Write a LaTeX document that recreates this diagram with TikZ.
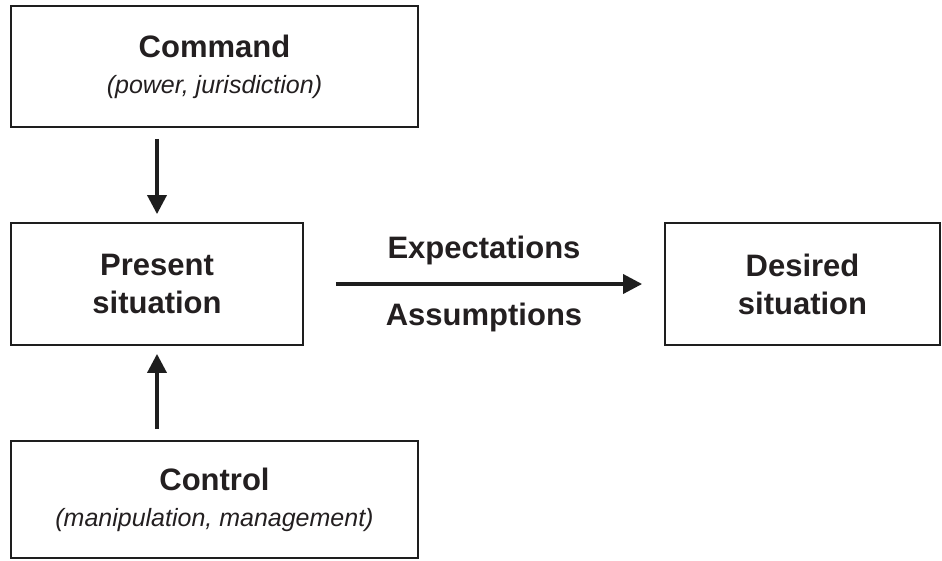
\documentclass[tikz,border=0pt]{standalone}
\usepackage{fontspec}
\setmainfont{Liberation Sans}
\usepackage{tikz}
\usetikzlibrary{arrows.meta}
\usepackage{xcolor}
\definecolor{ColText}{RGB}{35,31,32}
\definecolor{ColLine}{RGB}{30,30,30}
\tikzstyle{BoxState}=[rectangle,draw=ColLine,line width=1.8pt,inner sep=0pt,
text=ColText,align=center,font=\bfseries\fontsize{31}{38}\selectfont]
\tikzstyle{ArrowFlow}=[ColLine,line width=3.6pt,-{Triangle[length=19pt,width=19pt]}]
\tikzstyle{LabelFlow}=[text=ColText,font=\bfseries\fontsize{31}{36}\selectfont]
\newcommand{\SubNote}[1]{\\[-2pt]{\mdseries\itshape\fontsize{25}{28}\selectfont #1}}

\begin{document}
\begin{tikzpicture}[x=1pt,y=-1pt]
        \useasboundingbox (0,0) rectangle (942,560);
        \node[BoxState,minimum width=407pt,minimum height=121pt](command)at(214.5,66.5)
            {Command\SubNote{(power, jurisdiction)}};
        \node[BoxState,minimum width=292pt,minimum height=122pt](present)at(157,284)
            {Present\\situation};
        \node[BoxState,minimum width=407pt,minimum height=117pt](control)at(214.5,499.5)
            {Control\SubNote{(manipulation, management)}};
        \node[BoxState,minimum width=275pt,minimum height=122pt](desired)at(802.5,284)
            {Desired\\situation};
        \draw[ArrowFlow,shorten <=11pt,shorten >=8pt](command.south -| present.north)--(present.north);
        \draw[ArrowFlow,shorten <=11pt,shorten >=8pt](control.north -| present.south)--(present.south);
        \draw[ArrowFlow,shorten <=32pt,shorten >=22pt](present.east)--
            node[LabelFlow,above=14pt](expect){Expectations}
            node[LabelFlow,below=14pt](assume){Assumptions}(desired.west);
    \end{tikzpicture}
\end{document}
